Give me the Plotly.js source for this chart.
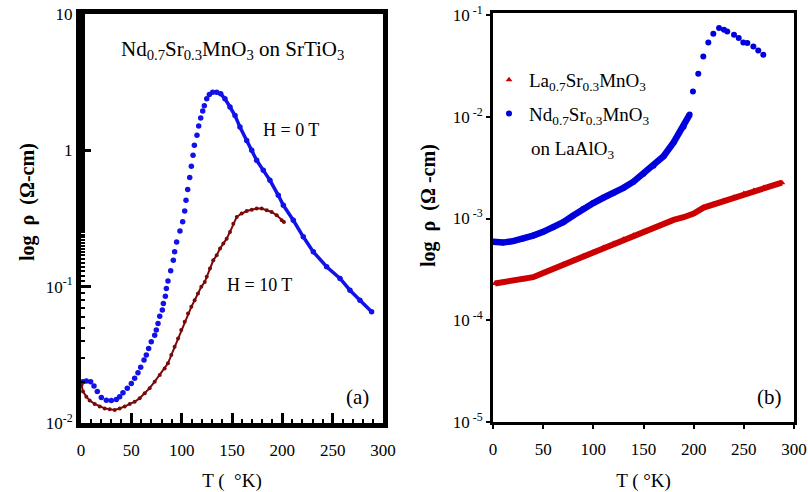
<!DOCTYPE html>
<html>
<head>
<meta charset="utf-8">
<script src="https://cdn.plot.ly/plotly-3.0.1.min.js"></script>
<style>html,body{margin:0;padding:0;background:#fff;}#chart{width:808px;height:492px;}</style>
</head>
<body>
<div id="chart"></div>
<script>
// ---- Panel (a): Nd0.7Sr0.3MnO3 on SrTiO3 ----
// H = 0 T
const tempH0 = [2.0, 5.3, 9.6, 12.9, 16.2, 20.2, 25.2, 30.1, 35.1, 38.4, 41.7, 46.0, 50.0, 53.3, 56.6, 59.3, 62.6, 64.9, 67.2, 69.8, 73.2, 74.8, 76.5, 78.2, 80.8, 81.8, 83.8, 84.8, 86.4, 89.1, 91.7, 93.0, 95.0, 98.3, 101.0, 103.0, 104.3, 106.0, 108.0, 109.6, 111.3, 112.6, 115.2, 116.9, 118.9, 120.9, 122.5, 124.9, 127.5, 130.8, 134.8, 138.8, 143.0, 148.0, 153.0, 157.9, 164.6, 169.6, 174.5, 181.1, 187.7, 196.0, 201.0, 210.9, 220.8, 230.8, 244.0, 257.3, 267.2, 277.1, 288.7];
const rhoH0 = [0.0201, 0.0203, 0.0201, 0.0187, 0.0170, 0.0154, 0.0147, 0.0146, 0.0149, 0.0156, 0.0167, 0.0180, 0.0195, 0.0213, 0.0234, 0.0256, 0.0290, 0.0315, 0.0352, 0.0394, 0.0441, 0.0480, 0.0537, 0.0608, 0.0673, 0.0753, 0.0851, 0.0970, 0.110, 0.131, 0.156, 0.180, 0.213, 0.256, 0.299, 0.359, 0.430, 0.515, 0.631, 0.764, 0.919, 1.088, 1.288, 1.507, 1.726, 1.941, 2.125, 2.39, 2.57, 2.67, 2.67, 2.60, 2.39, 2.08, 1.80, 1.48, 1.18, 1.00, 0.845, 0.713, 0.603, 0.468, 0.395, 0.307, 0.232, 0.180, 0.140, 0.115, 0.0942, 0.0796, 0.0654];
// H = 10 T
const tempH10 = [0.5, 2.0, 5.3, 8.6, 13.6, 18.6, 23.5, 28.5, 33.5, 38.4, 43.4, 48.4, 53.3, 58.3, 63.3, 68.2, 73.2, 78.2, 83.1, 86.4, 89.7, 93.0, 96.4, 99.6, 103.0, 106.3, 109.6, 112.9, 116.2, 119.5, 122.9, 124.9, 128.1, 131.4, 134.8, 138.1, 141.4, 144.7, 148.0, 151.3, 154.7, 159.6, 164.6, 169.6, 174.5, 179.5, 184.5, 189.4, 194.4, 199.4, 201.6];
const rhoH10 = [0.0190, 0.0170, 0.0156, 0.0146, 0.0138, 0.0132, 0.0128, 0.0126, 0.01245, 0.0128, 0.0132, 0.0138, 0.0143, 0.0152, 0.0165, 0.0180, 0.0201, 0.0225, 0.0251, 0.0274, 0.0315, 0.0362, 0.0417, 0.0480, 0.0552, 0.0636, 0.0711, 0.0796, 0.0891, 0.0997, 0.108, 0.118, 0.136, 0.156, 0.170, 0.1905, 0.207, 0.225, 0.252, 0.290, 0.325, 0.344, 0.359, 0.367, 0.374, 0.374, 0.363, 0.353, 0.334, 0.307, 0.298];

// ---- Panel (b): films on LaAlO3 ----
const tempLa = [2, 10, 20, 30, 40, 50, 60, 70, 80, 90, 100, 110, 120, 130, 140, 150, 160, 170, 180, 190, 200, 210, 220, 230, 240, 250, 260, 270, 280, 288];
const rhoLa = [2.30e-4, 2.36e-4, 2.42e-4, 2.50e-4, 2.65e-4, 2.92e-4, 3.20e-4, 3.55e-4, 3.88e-4, 4.28e-4, 4.70e-4, 5.20e-4, 5.68e-4, 6.25e-4, 6.85e-4, 7.45e-4, 8.10e-4, 8.85e-4, 9.70e-4, 1.03e-3, 1.12e-3, 1.28e-3, 1.38e-3, 1.50e-3, 1.62e-3, 1.76e-3, 1.88e-3, 2.02e-3, 2.13e-3, 2.25e-3];
const tempNd = [0, 10, 20, 30, 40, 50, 60, 70, 80, 90, 100, 110, 120, 130, 140, 150, 160, 170, 180, 190, 196];
const rhoNd = [5.9e-4, 5.8e-4, 6.0e-4, 6.35e-4, 6.8e-4, 7.4e-4, 8.2e-4, 9.2e-4, 1.07e-3, 1.25e-3, 1.42e-3, 1.60e-3, 1.78e-3, 2.0e-3, 2.3e-3, 2.75e-3, 3.3e-3, 4.1e-3, 5.6e-3, 8.0e-3, 1.05e-2];
const tempNdHigh = [199.3, 204.6, 209.6, 214.6, 219.6, 225.3, 230.2, 233.5, 240.2, 244.9, 249.5, 253.5, 259.5, 264.4, 269.4];
const rhoNdHigh = [0.01774, 0.0265, 0.0392, 0.0538, 0.0655, 0.0745, 0.0718, 0.0690, 0.0641, 0.0594, 0.0538, 0.0531, 0.0491, 0.0449, 0.0407];

const xTickStep = 50;
const ticksA = [0.01, 0.1, 1, 10];
const tickTextA = ['10<sup>-2</sup>', '10<sup>-1</sup>', '1', '10'];
const ticksB = [1e-5, 1e-4, 1e-3, 1e-2, 1e-1];
const tickTextB = ['10<sup> -5</sup>', '10<sup> -4</sup>', '10<sup> -3</sup>', '10<sup> -2</sup>', '10<sup> -1</sup>'];

const FONT = '"Liberation Serif", "Times New Roman", Times, serif';
const W = 808, H = 492;
const px = v => v / W;
const py = v => 1 - v / H;

const blueA = '#1212e8', redA = '#7a0a0a', redB = '#cc0000', blueB = '#0000dd';

// subset of H=0 data on the high-T side (dense part drawn with a line)
const hiIdx = tempH0.map((t, i) => i).filter(i => tempH0[i] >= 130);

const traces = [
  {x: hiIdx.map(i => tempH0[i]), y: hiIdx.map(i => rhoH0[i]), xaxis: 'x', yaxis: 'y', mode: 'lines',
   line: {color: blueA, width: 3.5}, showlegend: false, hoverinfo: 'skip'},
  {x: tempH0, y: rhoH0, xaxis: 'x', yaxis: 'y', mode: 'markers', name: 'H = 0 T',
   marker: {color: blueA, size: 5.5}, showlegend: false},
  {x: tempH10, y: rhoH10, xaxis: 'x', yaxis: 'y', mode: 'lines+markers', name: 'H = 10 T',
   line: {color: redA, width: 2}, marker: {color: redA, size: 4}, showlegend: false},
  {x: tempLa, y: rhoLa, xaxis: 'x2', yaxis: 'y2', mode: 'lines', line: {color: redB, width: 6},
   showlegend: false, hoverinfo: 'skip'},
  {x: tempLa, y: rhoLa, xaxis: 'x2', yaxis: 'y2', mode: 'markers', legendgroup: 'la',
   name: 'La<sub>0.7</sub>Sr<sub>0.3</sub>MnO<sub>3</sub>',
   marker: {color: redB, size: 6, symbol: 'triangle-up'}},
  {x: tempNd, y: rhoNd, xaxis: 'x2', yaxis: 'y2', mode: 'lines', line: {color: blueB, width: 6.5},
   showlegend: false, hoverinfo: 'skip'},
  {x: tempNd.concat(tempNdHigh), y: rhoNd.concat(rhoNdHigh), xaxis: 'x2', yaxis: 'y2', mode: 'markers',
   legendgroup: 'nd', name: 'Nd<sub>0.7</sub>Sr<sub>0.3</sub>MnO<sub>3</sub>',
   marker: {color: blueB, size: 6, symbol: 'circle'}}
];

const layout = {
  width: W, height: H,
  margin: {l: 0, r: 0, t: 0, b: 0},
  paper_bgcolor: '#ffffff', plot_bgcolor: '#ffffff',
  font: {family: FONT, size: 17, color: '#000'},
  showlegend: true,
  legend: {x: px(489), y: py(61), xanchor: 'left', yanchor: 'top', bgcolor: 'rgba(0,0,0,0)',
           font: {family: FONT, size: 19, color: '#000'}, tracegroupgap: 6, traceorder: 'grouped'},
  xaxis: {domain: [px(81), px(383)], range: [0, 300], tickmode: 'linear', tick0: 0, dtick: xTickStep,
          ticks: 'inside', ticklen: 10, tickwidth: 3, tickcolor: '#000', ticklabelstandoff: 8,
          minor: {dtick: 10, ticks: 'inside', ticklen: 4, tickwidth: 2, tickcolor: '#000', showgrid: false},
          showline: true, linewidth: 5, linecolor: '#000', mirror: true,
          showgrid: false, zeroline: false, tickfont: {family: FONT, size: 17},
          title: {text: 'T (  °K)', font: {family: FONT, size: 19}, standoff: 16}, anchor: 'y'},
  yaxis: {domain: [py(423), py(14)], type: 'log', range: [-2, 1], tickmode: 'array',
          tickvals: ticksA, ticktext: tickTextA,
          ticks: 'inside', ticklen: 10, tickwidth: 3, tickcolor: '#000',
          minor: {ticks: 'inside', ticklen: 4, tickwidth: 2, tickcolor: '#000', showgrid: false},
          showline: true, linewidth: 5, linecolor: '#000', mirror: true,
          showgrid: false, zeroline: false, tickfont: {family: FONT, size: 17}, anchor: 'x'},
  xaxis2: {domain: [px(493), px(794)], range: [0, 300], tickmode: 'linear', tick0: 0, dtick: xTickStep,
           ticks: 'outside', ticklen: 4, tickwidth: 1.5, tickcolor: '#000', ticklabelstandoff: 6,
           showline: true, linewidth: 3, linecolor: '#000', mirror: true,
           showgrid: false, zeroline: false, tickfont: {family: FONT, size: 17},
           title: {text: 'T ( °K)', font: {family: FONT, size: 19}, standoff: 16}, anchor: 'y2'},
  yaxis2: {domain: [py(422), py(13)], type: 'log', range: [-5, -0.98], tickmode: 'array',
           tickvals: ticksB, ticktext: tickTextB,
           ticks: 'outside', ticklen: 4, tickwidth: 1.5, tickcolor: '#000',
           showline: true, linewidth: 3, linecolor: '#000', mirror: true,
           showgrid: false, zeroline: false, tickfont: {family: FONT, size: 17}, anchor: 'x2'},
  annotations: [
    {text: '<b>log  ρ  (Ω-cm)</b>', x: px(27), y: py(202), xref: 'paper', yref: 'paper', textangle: -90,
     xanchor: 'center', yanchor: 'middle', showarrow: false, font: {family: FONT, size: 20, color: '#000'}},
    {text: '<b>log  ρ  (Ω -cm)</b>', x: px(428), y: py(206), xref: 'paper', yref: 'paper', textangle: -90,
     xanchor: 'center', yanchor: 'middle', showarrow: false, font: {family: FONT, size: 20, color: '#000'}},
    {text: 'Nd<sub>0.7</sub>Sr<sub>0.3</sub>MnO<sub>3</sub> on SrTiO<sub>3</sub>', x: px(233), y: py(50),
     xref: 'paper', yref: 'paper', xanchor: 'center', yanchor: 'middle', showarrow: false,
     font: {family: FONT, size: 21, color: '#000'}},
    {text: 'H = 0 T', x: px(291), y: py(130), xref: 'paper', yref: 'paper', xanchor: 'center', yanchor: 'middle',
     showarrow: false, font: {family: FONT, size: 18, color: '#000'}},
    {text: 'H = 10 T', x: px(259), y: py(285), xref: 'paper', yref: 'paper', xanchor: 'center', yanchor: 'middle',
     showarrow: false, font: {family: FONT, size: 18, color: '#000'}},
    {text: '(a)', x: px(357), y: py(397), xref: 'paper', yref: 'paper', xanchor: 'center', yanchor: 'middle',
     showarrow: false, font: {family: FONT, size: 21, color: '#000'}},
    {text: '(b)', x: px(769), y: py(397), xref: 'paper', yref: 'paper', xanchor: 'center', yanchor: 'middle',
     showarrow: false, font: {family: FONT, size: 21, color: '#000'}},
    {text: 'on LaAlO<sub>3</sub>', x: px(529), y: py(150), xref: 'paper', yref: 'paper', xanchor: 'left', yanchor: 'middle',
     showarrow: false, font: {family: FONT, size: 19, color: '#000'}}
  ]
};

Plotly.newPlot('chart', traces, layout, {displayModeBar: false});
</script>
</body>
</html>
